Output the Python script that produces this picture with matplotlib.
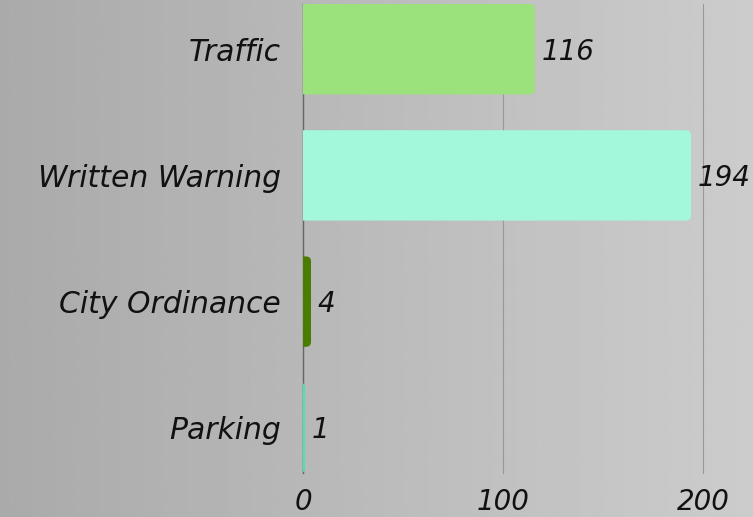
import numpy as np
import matplotlib.pyplot as plt
from matplotlib.patches import FancyBboxPatch

categories = ['Traffic', 'Written Warning', 'City Ordinance', 'Parking']
counts = [116, 194, 4, 1]
colors = ['#9be27c', '#a3f7da', '#4a7c00', '#3ee8b0']
xticks = [0, 100, 200]

plt.rcParams['font.family'] = ['DejaVu Sans']

fig = plt.figure(figsize=(7.53, 5.17), dpi=100)

# grey gradient background, darker on the left
bg = fig.add_axes([0, 0, 1, 1], zorder=-10)
grad = np.linspace(0, 1, 256).reshape(1, -1)
bg.imshow(grad, aspect='auto', cmap='gray', vmin=-5.0, vmax=2.5, extent=[0, 1, 0, 1])
bg.axis('off')

ax = fig.add_axes([303 / 753, 44 / 517, 400 / 753, 469 / 517])
ax.patch.set_alpha(0)

fs = 21.5
h = 0.716
ypos = np.arange(len(categories))
for y, v, c in zip(ypos, counts, colors):
    # extend a bit to the left of 0 so the clipped left corners stay square
    p = FancyBboxPatch((-3, y - h / 2), v + 3, h,
                       boxstyle='round,pad=0,rounding_size=2.5',
                       mutation_aspect=2 / 126, fc=c, ec='none', zorder=3)
    ax.add_patch(p)
    ax.text(v + 3.5, y + 0.02, str(v), ha='left', va='center', fontsize=20,
            style='italic', color='#111111', clip_on=False)

ax.set_xlim(0, 200)
ax.set_ylim(len(categories) - 1 + h / 2, -h / 2)
ax.set_yticks(ypos)
ax.set_yticklabels(categories, fontsize=fs, style='italic', color='#111111')
ax.set_xticks(xticks)
ax.set_xticklabels([str(t) for t in xticks], fontsize=20, style='italic', color='#111111')
ax.tick_params(length=0)
ax.tick_params(axis='y', pad=16)
ax.tick_params(axis='x', pad=11)

ax.grid(axis='x', color='#999999', linewidth=0.8, zorder=0)
for gl in ax.get_xgridlines():
    gl.set_clip_on(False)
ax.set_axisbelow(True)
for s in ['top', 'right', 'bottom']:
    ax.spines[s].set_visible(False)
ax.spines['left'].set_color('#666666')
ax.spines['left'].set_linewidth(1)

fig.savefig('out.png', dpi=100)
